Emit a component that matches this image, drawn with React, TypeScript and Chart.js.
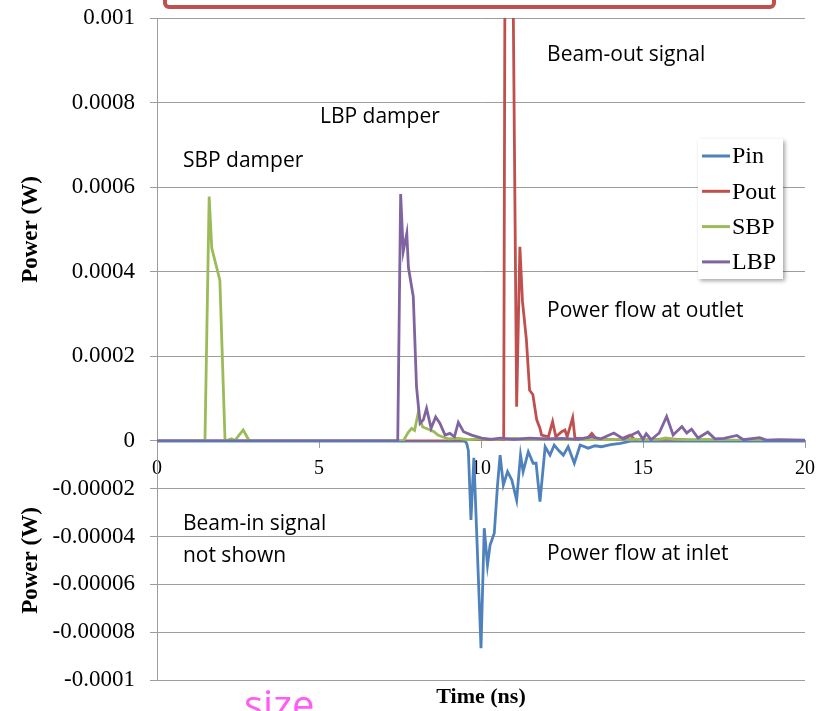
import React, { useEffect, useRef } from 'react';
import { Chart, registerables } from 'chart.js';

Chart.register(...registerables);

// ---- data (time in ns, power in W) ----
const pinTime = [0, 9.5, 9.56, 9.61, 9.69, 9.78, 10.0, 10.1, 10.2, 10.28, 10.41, 10.51, 10.59, 10.69, 10.82, 10.95, 11.1, 11.22, 11.3, 11.46, 11.61, 11.7, 11.82, 11.98, 12.13, 12.26, 12.4, 12.54, 12.69, 12.88, 13.06, 13.31, 13.52, 13.72, 14.0, 14.3, 14.65, 20];
const pinValues = [0, 0, -0.000001, -0.000004, -0.000033, -0.000007, -0.0000867, -0.0000365, -0.0000519, -0.0000435, -0.0000386, -0.0000184, -0.0000059, -0.0000184, -0.0000128, -0.0000163, -0.0000247, -0.0000059, -0.0000128, -0.0000045, -0.0000093, -0.0000093, -0.0000254, -0.0000024, -0.0000059, -0.0000017, -0.000004, -0.0000059, -0.0000024, -0.0000093, -0.0000017, -0.000003, -0.000002, -0.0000024, -0.0000015, -0.000001, 0, 0];

const poutTime = [0, 10.7, 10.8, 11.1, 11.2, 11.28, 11.4, 11.5, 11.6, 11.72, 11.82, 11.87, 12.08, 12.21, 12.31, 12.49, 12.59, 12.66, 12.83, 12.9, 13.06, 13.25, 13.42, 13.57, 14.0, 14.3, 14.6, 14.75, 15.2, 15.7, 16.1, 16.6, 17.5, 20];
const poutValues = [0, 0, 0.0028, 0.000081, 0.000459, 0.00033, 0.00024, 0.00012, 0.00011, 0.00005, 0.00003, 0.000014, 0.00001, 0.000046, 0.00001, 0.000022, 0.000026, 0.00001, 0.000055, 0.000006, 0.000006, 0.000003, 0.000018, 0.000004, 0.000003, 0.000004, 0.000014, 0.000003, 0.000002, 0.000005, 0.000004, 0.000001, 0, 0];

const sbpTime = [0, 1.48, 1.61, 1.69, 1.94, 2.1, 2.3, 2.4, 2.66, 2.85, 7.6, 7.75, 7.86, 7.95, 8.06, 8.12, 8.2, 8.3, 8.43, 8.55, 8.67, 8.8, 9.0, 9.3, 9.6, 10.0, 10.5, 11.0, 11.5, 12.0, 12.5, 13.0, 13.5, 14.0, 14.5, 15.0, 15.5, 15.7, 16.0, 16.5, 17.0, 17.5, 18.0, 18.5, 19.0, 20];
const sbpValues = [0, 0, 0.000578, 0.000456, 0.00038, 0, 0.000005, 0.000001, 0.000026, 0, 0, 0.00002, 0.00003, 0.000025, 0.000066, 0.00005, 0.000033, 0.00003, 0.000026, 0.000022, 0.000014, 0.00001, 0.000005, 0.000006, 0.000003, 0.000005, 0.000004, 0.000006, 0.000004, 0.000005, 0.000003, 0.000004, 0.000002, 0.000003, 0.000005, 0.000003, 0.000004, 0.000007, 0.000004, 0.000003, 0.000004, 0.000002, 0.000002, 0.000003, 0.000001, 0.000001];

const lbpTime = [0, 7.43, 7.52, 7.6, 7.71, 7.76, 7.91, 8.01, 8.12, 8.22, 8.32, 8.46, 8.6, 8.73, 8.89, 9.04, 9.18, 9.3, 9.46, 9.71, 10.02, 10.3, 10.6, 11.0, 11.5, 12.0, 12.5, 13.0, 13.4, 13.7, 14.1, 14.4, 14.85, 15.0, 15.1, 15.25, 15.5, 15.73, 15.93, 16.2, 16.35, 16.5, 16.7, 17.0, 17.22, 17.5, 17.9, 18.1, 18.6, 18.8, 19.2, 20];
const lbpValues = [0, 0, 0.000584, 0.000448, 0.000491, 0.00041, 0.000341, 0.000128, 0.000042, 0.00005, 0.000077, 0.00003, 0.000057, 0.000042, 0.000014, 0.000018, 0.00001, 0.000044, 0.000022, 0.000014, 0.000007, 0.000004, 0.000007, 0.000004, 0.000007, 0.000005, 0.000006, 0.000004, 0.00001, 0.000005, 0.000019, 0.000005, 0.000022, 0.000004, 0.000017, 0.000003, 0.000019, 0.000058, 0.000014, 0.000034, 0.000019, 0.000028, 0.000007, 0.000021, 0.000005, 0.000006, 0.000013, 0.000003, 0.000008, 0.000002, 0.000003, 0.000002];

const seriesNames = ['Pin', 'Pout', 'SBP', 'LBP'];
const seriesColors = ['#4f81bd', '#c0504d', '#9bbb59', '#8064a2'];

const xTickValues = [0, 5, 10, 15, 20];
const upperTickStep = 0.0002;
const lowerTickStep = 0.00002;

// annotation texts, anchored in data units (x: ns, y: W on given axis)
const annotations = [
  { text: 'Beam-out signal', x: 12.04, y: 0.000898, axis: 'y' },
  { text: 'LBP damper', x: 5.03, y: 0.000752, axis: 'y' },
  { text: 'SBP damper', x: 0.8, y: 0.000648, axis: 'y' },
  { text: 'Power flow at outlet', x: 12.04, y: 0.000293, axis: 'y' },
  { text: 'Beam-in signal', x: 0.8, y: -0.0000372, axis: 'y2' },
  { text: 'not shown', x: 0.8, y: -0.0000506, axis: 'y2' },
  { text: 'Power flow at inlet', x: 12.04, y: -0.0000498, axis: 'y2' },
];

const GRID = '#9d9d9d';
const SERIF = '"Liberation Serif", "Times New Roman", serif';
const SANS = '"Open Sans", "Noto Sans", sans-serif';

const pts = (t: number[], v: number[]) => t.map((x, i) => ({ x, y: v[i] }));
const fmt = (v: number) => {
  const n = Number(Number(v).toPrecision(6));
  return n === 0 ? '0' : String(n);
};

const overlayPlugin = {
  id: 'overlay',
  afterDraw(chart: any) {
    const ctx = chart.ctx as CanvasRenderingContext2D;
    const xs = chart.scales.x;
    const ys = chart.scales.y;
    const ys2 = chart.scales.y2;
    ctx.save();

    ctx.font = `21px ${SANS}`;
    ctx.fillStyle = '#000';
    ctx.textAlign = 'left';
    ctx.textBaseline = 'alphabetic';
    annotations.forEach((a) => {
      const sc = a.axis === 'y2' ? ys2 : ys;
      ctx.fillText(a.text, xs.getPixelForValue(a.x), sc.getPixelForValue(a.y));
    });

    ctx.strokeStyle = '#c0504d';
    ctx.lineWidth = 4;
    ctx.beginPath();
    if ((ctx as any).roundRect) (ctx as any).roundRect(165, -40, 609, 47, 4);
    else ctx.rect(165, -40, 609, 47);
    ctx.stroke();

    const lx = 698, ly = 139, lw = 85, lh = 140;
    ctx.save();
    ctx.shadowColor = 'rgba(0,0,0,0.35)';
    ctx.shadowBlur = 4;
    ctx.shadowOffsetX = 2;
    ctx.shadowOffsetY = 2;
    ctx.fillStyle = '#fff';
    ctx.fillRect(lx, ly, lw, lh);
    ctx.restore();
    ctx.font = `24px ${SERIF}`;
    ctx.textBaseline = 'middle';
    seriesNames.forEach((name, i) => {
      const cy = 156 + i * 35.3;
      ctx.strokeStyle = seriesColors[i];
      ctx.lineWidth = 3;
      ctx.beginPath();
      ctx.moveTo(702, cy);
      ctx.lineTo(730, cy);
      ctx.stroke();
      ctx.fillStyle = '#000';
      ctx.fillText(name, 732, cy + 1);
    });

    ctx.font = `bold 22px ${SERIF}`;
    ctx.textAlign = 'center';
    ctx.textBaseline = 'middle';
    ctx.fillStyle = '#000';
    ctx.fillText('Time (ns)', (xs.left + xs.right) / 2, 697);

    ctx.font = `40px ${SANS}`;
    ctx.fillStyle = '#ff5cf4';
    ctx.textAlign = 'left';
    ctx.textBaseline = 'alphabetic';
    ctx.fillText('size', 244, 719);

    ctx.restore();
  },
};

const yTitle = {
  display: true,
  text: 'Power (W)',
  font: { family: SERIF, size: 23, weight: 'bold' },
  color: '#000',
  padding: { top: 17, bottom: 0 },
};

const fitY = (s: any) => {
  s.width = 157;
  s.paddingTop = 0;
  s.paddingBottom = 0;
};

export default function App() {
  const ref = useRef<HTMLCanvasElement | null>(null);

  useEffect(() => {
    if (!ref.current) return;
    const ds = [
      { data: pts(pinTime, pinValues), yAxisID: 'y2', order: 4 },
      { data: pts(poutTime, poutValues), yAxisID: 'y', order: 3 },
      { data: pts(sbpTime, sbpValues), yAxisID: 'y', order: 2 },
      { data: pts(lbpTime, lbpValues), yAxisID: 'y', order: 1 },
    ].map((d, i) => ({
      label: seriesNames[i],
      ...d,
      borderColor: seriesColors[i],
      backgroundColor: seriesColors[i],
      borderWidth: 2.8,
      pointRadius: 0,
      tension: 0,
      fill: false,
    }));

    const chart = new Chart(ref.current, {
      type: 'line',
      data: { datasets: ds as any },
      plugins: [overlayPlugin],
      options: {
        animation: false,
        responsive: false,
        maintainAspectRatio: false,
        layout: { padding: { left: 0, top: 18, right: 26, bottom: 31 } },
        plugins: { legend: { display: false }, tooltip: { enabled: false }, title: { display: false } },
        scales: {
          x: {
            type: 'linear',
            min: 0,
            max: 20,
            position: { y: 0 } as any,
            afterFit: (s: any) => { s.height = 0; s.paddingTop = 0; s.paddingBottom = 0; },
            afterBuildTicks: (s: any) => { s.ticks = xTickValues.map((v) => ({ value: v })); },
            grid: { display: true, drawOnChartArea: false, drawTicks: true, tickLength: 7, color: GRID },
            border: { display: true, color: GRID, width: 1 },
            ticks: {
              font: { family: SERIF, size: 20 },
              color: '#000',
              padding: 9,
              maxRotation: 0,
              autoSkip: false,
              callback: (v: any) => String(v),
            },
          },
          y2: {
            type: 'linear',
            position: 'left',
            stack: 'power',
            stackWeight: 239,
            min: -0.0001,
            max: 0,
            afterFit: fitY,
            ticks: {
              stepSize: lowerTickStep,
              autoSkip: false,
              font: { family: SERIF, size: 23 },
              color: '#000',
              padding: 15,
              callback: (v: any) => (Math.abs(v) < 1e-12 ? '' : fmt(v)),
            },
            grid: { color: GRID, tickLength: 7, lineWidth: 1 },
            border: { display: true, color: GRID },
            title: yTitle,
          },
          y: {
            type: 'linear',
            position: 'left',
            stack: 'power',
            stackWeight: 423,
            min: 0,
            max: 0.001,
            afterFit: fitY,
            ticks: {
              stepSize: upperTickStep,
              autoSkip: false,
              font: { family: SERIF, size: 23 },
              color: '#000',
              padding: 15,
              callback: (v: any) => fmt(v),
            },
            grid: { color: GRID, tickLength: 7, lineWidth: 1 },
            border: { display: true, color: GRID },
            title: yTitle,
          },
        } as any,
      },
    });
    return () => chart.destroy();
  }, []);

  return (
    <div style={{ position: 'fixed', left: 0, top: 0, width: 831, height: 711, background: '#fff' }}>
      <canvas ref={ref} width={831} height={711} style={{ display: 'block', width: 831, height: 711 }} />
    </div>
  );
}
